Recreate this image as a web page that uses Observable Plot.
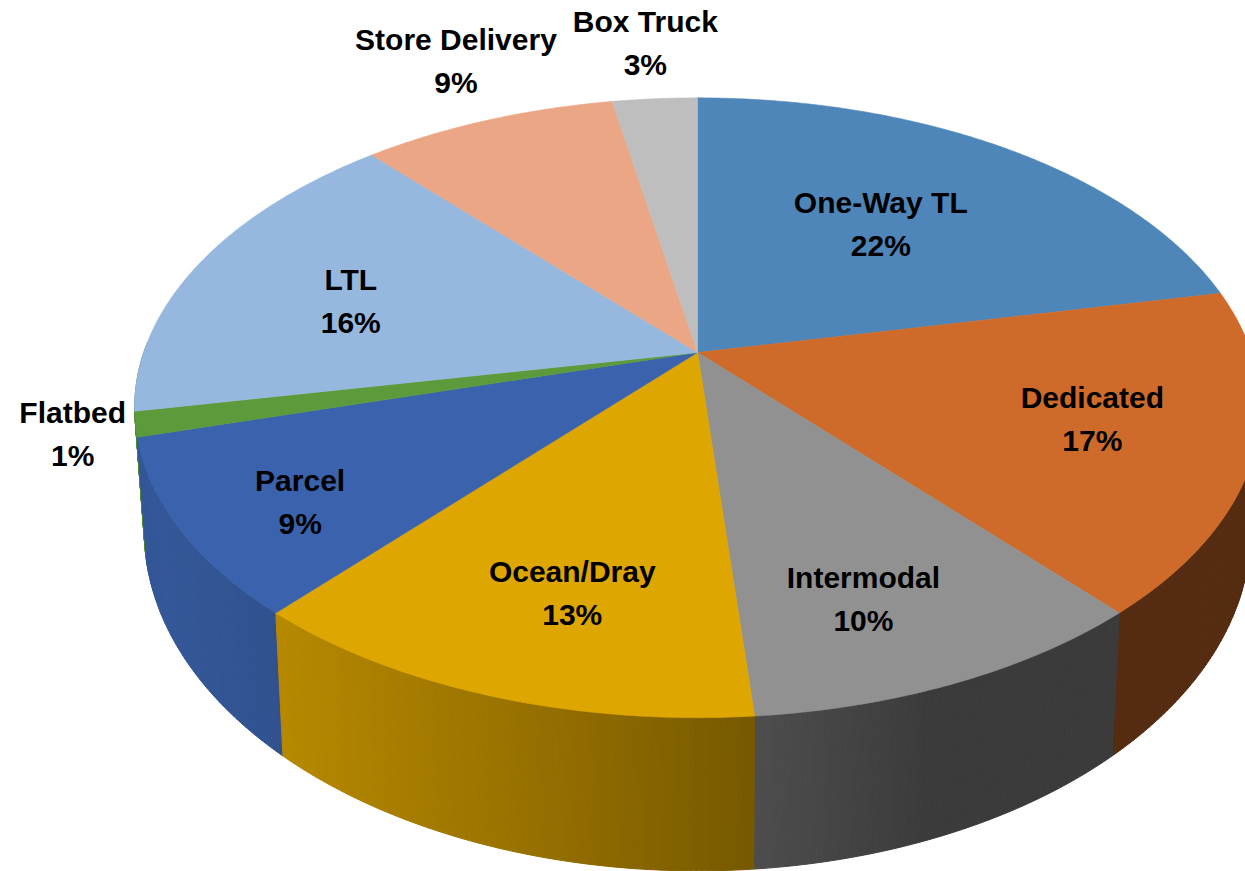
<!DOCTYPE html>
<html>
<head>
<meta charset="utf-8">
<script src="https://cdn.jsdelivr.net/npm/d3@7"></script>
<script src="https://cdn.jsdelivr.net/npm/@observablehq/plot@0.6"></script>
<style>
  html, body { margin: 0; padding: 0; background: #ffffff; overflow: hidden; }
  svg { display: block; }
</style>
</head>
<body>
<div id="chart"></div>
<script>
// ---------------- data ----------------
const categories = ["One-Way TL", "Dedicated", "Intermodal", "Ocean/Dray", "Parcel", "Flatbed", "LTL", "Store Delivery", "Box Truck"];
const shares = [21.7, 16.8, 10.1, 12.8, 9.2, 1.3, 16.4, 8.7, 2.9];
const percentLabels = ["22%", "17%", "10%", "13%", "9%", "1%", "16%", "9%", "3%"];

// ---------------- styling / layout ----------------
const palette = {
  "One-Way TL": "#4e86b9",
  "Dedicated": "#cf6b2a",
  "Intermodal": "#919191",
  "Ocean/Dray": "#dea600",
  "Parcel": "#3b63ad",
  "Flatbed": "#5c9a3b",
  "LTL": "#97b8de",
  "Store Delivery": "#eba685",
  "Box Truck": "#bebebe"
};
// label placement: distance from centre (pie radii) and angular nudge (degrees)
const labelPlacement = {
  "One-Way TL": [0.583, 1.2], "Dedicated": [0.719, 0.9], "Intermodal": [0.765, -3.1],
  "Ocean/Dray": [0.731, 2.5], "Parcel": [0.803, 2.7], "Flatbed": [1.107, 0.4],
  "LTL": [0.668, 3.7], "Store Delivery": [1.285, -1.9], "Box Truck": [1.267, 0]
};

const W = 1245, H = 871;
const toRad = Math.PI / 180;
const D = 4.65, phi = 34 * toRad, s = Math.sin(phi), c = Math.cos(phi);

// perspective projection of a point on the top face (unit radius pie)
function project(X, Y) {
  const depth = D + Y * c;
  return [X / depth, (Y * s) / depth];
}
// bottom face (pie thickness)
function projectBottom(X, Y) {
  const [px, py] = project(X, Y);
  return [px * 0.983, py * 1.097 - 0.04721];
}

const total = d3.sum(shares);
let cum = 0;
const slices = categories.map((name, i) => {
  const f0 = cum / total;
  cum += shares[i];
  const f1 = cum / total;
  return {name, i, f0, f1, color: palette[name]};
});
const theta = f => (90 - 360 * f) * toRad;
const ptTop = f => project(Math.cos(theta(f)), Math.sin(theta(f)));
const ptBot = f => projectBottom(Math.cos(theta(f)), Math.sin(theta(f)));

// top faces
const topRows = [];
for (const sl of slices) {
  const n = Math.max(2, Math.ceil((sl.f1 - sl.f0) * 720));
  const key = "top-" + sl.i;
  const push = ([x, y]) => topRows.push({x, y, key, color: sl.color});
  push(project(0, 0));
  for (let k = 0; k <= n; k++) push(ptTop(sl.f0 + (sl.f1 - sl.f0) * k / n));
  push(project(0, 0));
}

// side walls (front half), shaded
const F0 = 0.2444, F1 = 0.7556;
const wallSegs = [];
for (const sl of slices) {
  const a = Math.max(sl.f0, F0), b = Math.min(sl.f1, F1);
  if (b <= a) continue;
  const n = Math.max(1, Math.ceil((b - a) * 720));
  const base = d3.rgb(sl.color);
  for (let k = 0; k < n; k++) {
    const fa = a + (b - a) * k / n, fb = a + (b - a) * (k + 1) / n;
    const tm = theta((fa + fb) / 2);
    const shade = 0.41 + 0.47 * Math.max(0, Math.cos(tm + 160 * toRad));
    const col = d3.rgb(base.r * shade, base.g * shade, base.b * shade).formatHex();
    wallSegs.push({fa, fb, order: Math.sin(tm), col, key: `wall-${sl.i}-${k}`});
  }
}
wallSegs.sort((p, q) => q.order - p.order);
const wallRows = [];
for (const w of wallSegs) {
  for (const p of [ptTop(w.fa), ptTop(w.fb), ptBot(w.fb), ptBot(w.fa), ptTop(w.fa)]) {
    wallRows.push({x: p[0], y: p[1], key: w.key, color: w.col});
  }
}

// labels
const labelRows = slices.map(sl => {
  const [r, nudge] = labelPlacement[sl.name];
  const t = theta((sl.f0 + sl.f1) / 2) + nudge * toRad;
  const [x, y] = project(r * Math.cos(t), r * Math.sin(t));
  return {x, y, name: sl.name, pct: percentLabels[sl.i]};
});

const font = "'Liberation Sans', Arial, sans-serif";
const textStyle = {x: "x", y: "y", fontSize: 30, fontWeight: "bold", fill: "#000000", fontFamily: font};

const chart = Plot.plot({
  width: W,
  height: H,
  margin: 0,
  x: {domain: [-697 / 2575, (W - 697) / 2575], range: [0, W], axis: null},
  y: {domain: [(352 - H) / 2495, 352 / 2495], range: [H, 0], axis: null},
  color: {type: "identity"},
  style: {background: "#ffffff", fontFamily: font},
  marks: [
    Plot.line(wallRows, {x: "x", y: "y", z: "key", fill: "color", stroke: "color", strokeWidth: 1, strokeLinejoin: "round"}),
    Plot.line(topRows, {x: "x", y: "y", z: "key", fill: "color", stroke: "color", strokeWidth: 0.6, strokeLinejoin: "round"}),
    Plot.text(labelRows, {...textStyle, text: "name", dy: -21.5}),
    Plot.text(labelRows, {...textStyle, text: "pct", dy: 21.5})
  ]
});
document.getElementById("chart").appendChild(chart);
</script>
</body>
</html>
